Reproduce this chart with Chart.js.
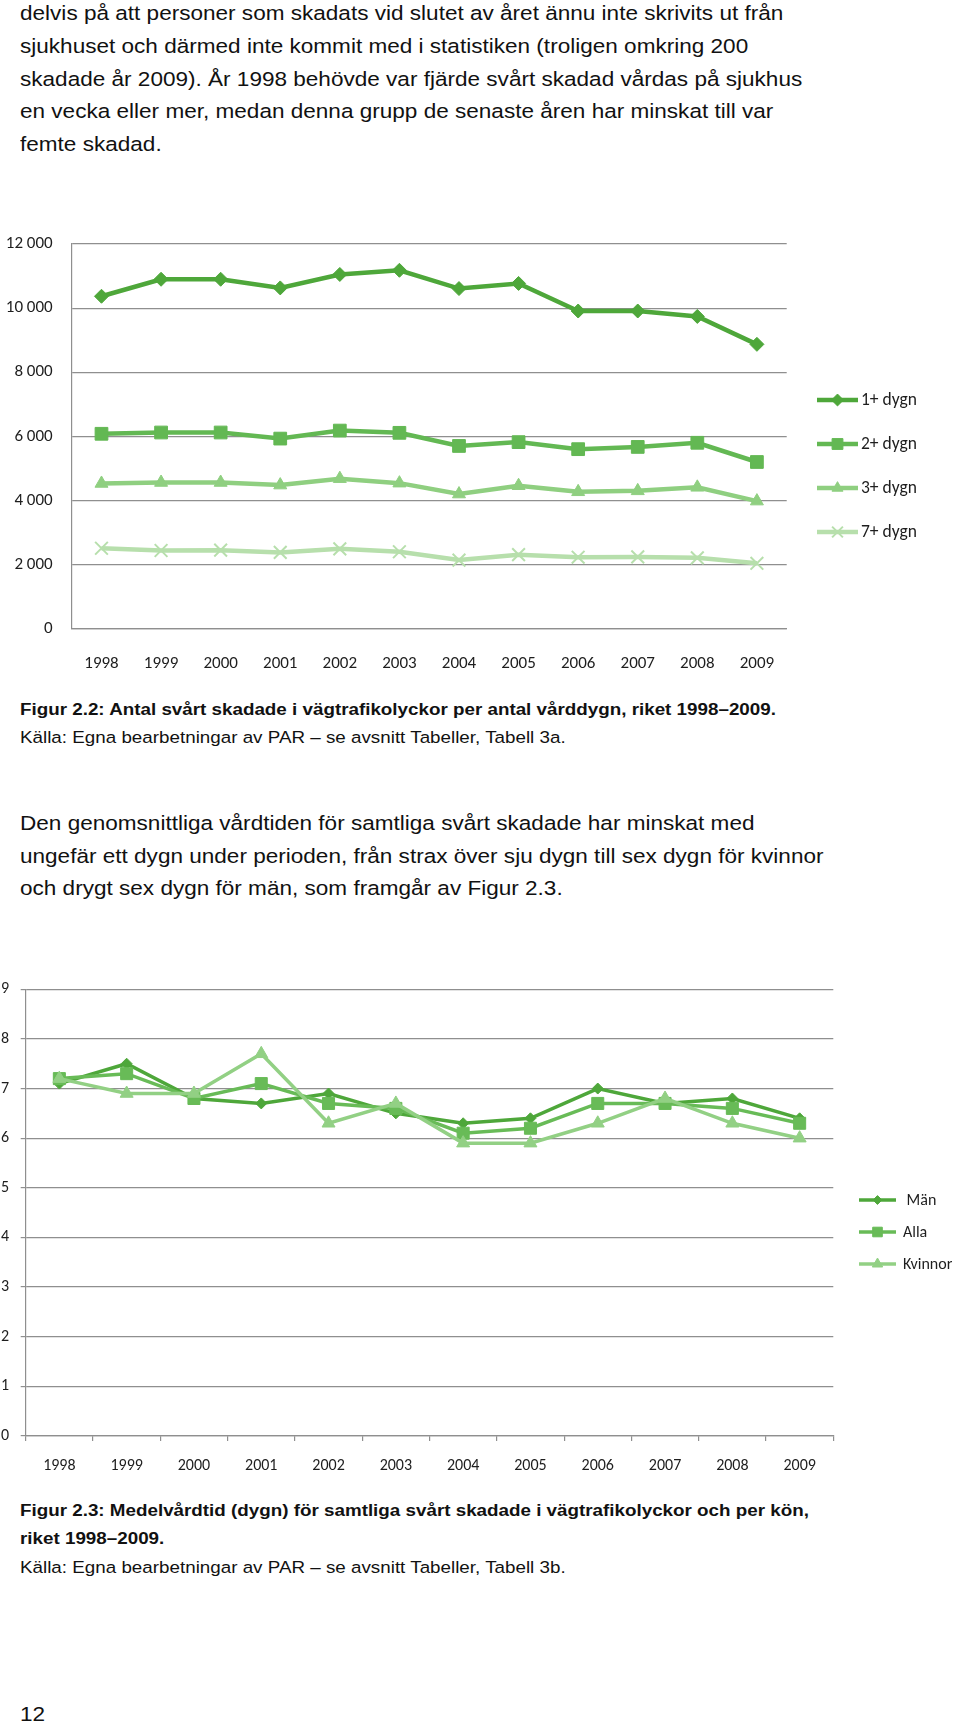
<!DOCTYPE html>
<html>
<head>
<meta charset="utf-8">
<script src="https://cdn.jsdelivr.net/npm/chart.js@4.4.0/dist/chart.umd.min.js"></script>
<style>
body { margin: 0; width: 960px; height: 1722px; position: relative; background: #fff; overflow: hidden;
       font-family: "Liberation Sans", Arial, sans-serif; color: #111; }
.t { position: absolute; left: 20px; white-space: nowrap; transform-origin: 0 0; transform: scaleX(1.1); }
.body { font-size: 20.5px; line-height: 32.7px; }
.cap { font-size: 17.1px; line-height: 28.3px; }
#box1 { position: absolute; left: 0; top: 230px; width: 960px; height: 450px; }
#box2 { position: absolute; left: 0; top: 968px; width: 960px; height: 522px; }
</style>
</head>
<body>

<div class="t body" style="top:-2.7px">delvis på att personer som skadats vid slutet av året ännu inte skrivits ut från<br>sjukhuset och därmed inte kommit med i statistiken (troligen omkring 200<br>skadade år 2009). År 1998 behövde var fjärde svårt skadad vårdas på sjukhus<br>en vecka eller mer, medan denna grupp de senaste åren har minskat till var<br>femte skadad.</div>

<div id="box1"><canvas id="chart1"></canvas></div>

<div class="t cap" style="top:696px"><b>Figur 2.2: Antal svårt skadade i vägtrafikolyckor per antal vårddygn, riket 1998–2009.</b><br>Källa: Egna bearbetningar av PAR – se avsnitt Tabeller, Tabell 3a.</div>

<div class="t body" style="top:807px">Den genomsnittliga vårdtiden för samtliga svårt skadade har minskat med<br>ungefär ett dygn under perioden, från strax över sju dygn till sex dygn för kvinnor<br>och drygt sex dygn för män, som framgår av Figur 2.3.</div>

<div id="box2"><canvas id="chart2"></canvas></div>

<div class="t cap" style="top:1497px"><b>Figur 2.3: Medelvårdtid (dygn) för samtliga svårt skadade i vägtrafikolyckor och per kön,<br>riket 1998–2009.</b><br>Källa: Egna bearbetningar av PAR – se avsnitt Tabeller, Tabell 3b.</div>

<div class="t body" style="top:1698px">12</div>

<script>
// years on the x axis (both charts)
const years = ['1998', '1999', '2000', '2001', '2002', '2003', '2004', '2005', '2006', '2007', '2008', '2009'];

// Figur 2.2 - antal svårt skadade per antal vårddygn
const dygnLabels = ['1+ dygn', '2+ dygn', '3+ dygn', '7+ dygn'];
const dygn1 = [10370, 10900, 10900, 10630, 11050, 11180, 10610, 10770, 9910, 9910, 9740, 8870];
const dygn2 = [6080, 6120, 6120, 5930, 6180, 6110, 5700, 5820, 5600, 5670, 5800, 5200];
const dygn3 = [4530, 4560, 4560, 4480, 4680, 4540, 4200, 4460, 4270, 4300, 4410, 3980];
const dygn7 = [2510, 2440, 2450, 2380, 2490, 2400, 2140, 2310, 2230, 2240, 2210, 2040];
const yTicks1 = [0, 2000, 4000, 6000, 8000, 10000, 12000];

// Figur 2.3 - medelvårdtid (dygn)
const konLabels = [' Män', 'Alla', 'Kvinnor'];
const man = [7.1, 7.5, 6.8, 6.7, 6.9, 6.5, 6.3, 6.4, 7.0, 6.7, 6.8, 6.4];
const alla = [7.2, 7.3, 6.8, 7.1, 6.7, 6.6, 6.1, 6.2, 6.7, 6.7, 6.6, 6.3];
const kvinnor = [7.2, 6.9, 6.9, 7.7, 6.3, 6.7, 5.9, 5.9, 6.3, 6.8, 6.3, 6.0];
const yTicks2 = [0, 1, 2, 3, 4, 5, 6, 7, 8, 9];

const GREEN1 = '#4ea73a';
const GREEN2 = '#63b853';
const GREEN3 = '#8fcf80';
const GREEN4 = '#b7dfac';
const GRID = '#8f8f8f';
const LABEL = '#1e1e1e';
const FONT = 'Carlito, Lato, sans-serif';

Chart.defaults.font.family = FONT;
Chart.defaults.color = LABEL;

function fmtThousand(v) {
  if (v < 1000) return String(v);
  return Math.floor(v / 1000) + ' ' + String(v % 1000).padStart(3, '0');
}

function series(label, data, color, style, radius, width, order) {
  return {
    label: label,
    data: data,
    borderColor: color,
    backgroundColor: color,
    borderWidth: width,
    pointStyle: style,
    pointRadius: radius,
    pointBackgroundColor: color,
    pointBorderColor: color,
    pointBorderWidth: style === 'crossRot' ? 2 : 1,
    tension: 0,
    order: order
  };
}

// legend drawn as a line with the marker on top, like the original
function lineLegend(opts) {
  return {
    id: 'lineLegend',
    afterDraw(chart) {
      const ctx = chart.ctx;
      ctx.save();
      chart.data.datasets.forEach(function (ds, i) {
        const y = opts.y0 + i * opts.step;
        ctx.strokeStyle = ds.borderColor;
        ctx.lineWidth = ds.borderWidth;
        ctx.beginPath();
        ctx.moveTo(opts.x0, y);
        ctx.lineTo(opts.x1, y);
        ctx.stroke();
        ctx.fillStyle = ds.pointBackgroundColor;
        ctx.strokeStyle = ds.pointBorderColor;
        ctx.lineWidth = ds.pointBorderWidth;
        const mx = (opts.x0 + opts.x1) / 2;
        const r = ds.pointRadius * opts.scale;
        if (Chart.helpers && Chart.helpers.drawPoint) {
          Chart.helpers.drawPoint(ctx, {pointStyle: ds.pointStyle, radius: r, borderWidth: ds.pointBorderWidth, rotation: 0}, mx, y);
        }
        ctx.fillStyle = LABEL;
        ctx.font = opts.font + 'px ' + FONT;
        ctx.textBaseline = 'middle';
        ctx.textAlign = 'left';
        ctx.fillText(ds.label, opts.tx, y + 1);
      });
      ctx.restore();
    }
  };
}

const chart1 = new Chart(document.getElementById('chart1'), {
  type: 'line',
  data: {
    labels: years,
    datasets: [
      series(dygnLabels[0], dygn1, GREEN1, 'rectRot', 7, 4.5, 0),
      series(dygnLabels[1], dygn2, GREEN2, 'rect', 9, 4.5, 1),
      series(dygnLabels[2], dygn3, GREEN3, 'triangle', 7.5, 4.5, 2),
      series(dygnLabels[3], dygn7, GREEN4, 'crossRot', 9, 4.5, 3)
    ]
  },
  options: {
    responsive: true,
    maintainAspectRatio: false,
    animation: false,
    events: [],
    layout: { padding: { left: 0, right: 173.3, top: 14, bottom: 0 } },
    plugins: { legend: { display: false }, tooltip: { enabled: false } },
    scales: {
      x: {
        offset: true,
        grid: { display: false },
        border: { display: true, color: GRID, width: 1.2 },
        ticks: { font: { size: 17 }, padding: 17, maxRotation: 0, autoSkip: false },
        afterFit(scale) { scale.height = 51.3; }
      },
      y: {
        min: 0,
        max: 12000,
        afterBuildTicks(scale) { scale.ticks = yTicks1.map(v => ({ value: v })); },
        grid: { color: GRID, lineWidth: 1.2, drawTicks: true, tickLength: 16, tickColor: 'rgba(0,0,0,0)' },
        border: { display: true, color: GRID, width: 1.2 },
        ticks: { font: { size: 17 }, padding: 3, callback: v => fmtThousand(v) },
        afterFit(scale) { scale.width = 71.7; }
      }
    }
  },
  plugins: [lineLegend({ x0: 817, x1: 858, tx: 861, y0: 170, step: 44, font: 17.5, scale: 0.85 })]
});

const chart2 = new Chart(document.getElementById('chart2'), {
  type: 'line',
  data: {
    labels: years,
    datasets: [
      series(konLabels[0], man, GREEN1, 'rectRot', 5.5, 3.5, 2),
      series(konLabels[1], alla, '#68bb57', 'rect', 8.5, 3.5, 1),
      series(konLabels[2], kvinnor, '#92d084', 'triangle', 7.5, 3.5, 0)
    ]
  },
  options: {
    responsive: true,
    maintainAspectRatio: false,
    animation: false,
    events: [],
    layout: { padding: { left: 0, right: 126.7, top: 19, bottom: 0 } },
    plugins: { legend: { display: false }, tooltip: { enabled: false } },
    scales: {
      x: {
        offset: true,
        grid: { display: true, offset: true, drawOnChartArea: false, drawTicks: true, tickLength: 5, color: GRID, lineWidth: 1.2 },
        border: { display: true, color: GRID, width: 1.2 },
        ticks: { font: { size: 16 }, padding: 15, maxRotation: 0, autoSkip: false },
        afterFit(scale) { scale.height = 54.1; }
      },
      y: {
        min: 0,
        max: 9,
        afterBuildTicks(scale) { scale.ticks = yTicks2.map(v => ({ value: v })); },
        grid: { color: GRID, lineWidth: 1.2, drawTicks: true, tickLength: 5 },
        border: { display: true, color: GRID, width: 1.2 },
        ticks: { font: { size: 16 }, padding: 11.7 },
        afterFit(scale) { scale.width = 25.7; }
      }
    }
  },
  plugins: [lineLegend({ x0: 859, x1: 896, tx: 903, y0: 232, step: 32, font: 16, scale: 0.8 })]
});
</script>
</body>
</html>
